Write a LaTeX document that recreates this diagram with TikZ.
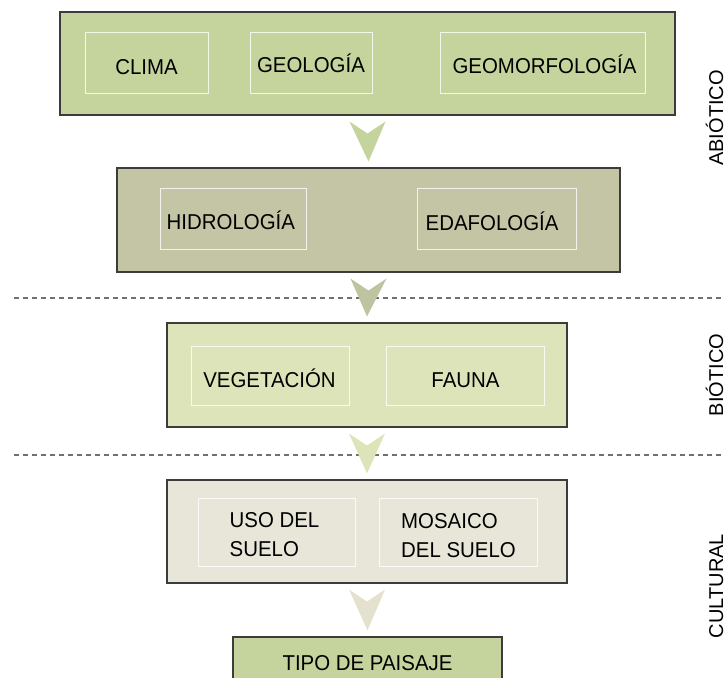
\documentclass[tikz,border=0pt]{standalone}
\usepackage{fontspec}
\setmainfont{Liberation Sans}
\newfontfamily\boxfont[FakeStretch=0.95]{Liberation Sans}
\usetikzlibrary{calc}
\definecolor{cA}{HTML}{C5D39C}
\definecolor{cB}{HTML}{C3C5A5}
\definecolor{cBa}{HTML}{BEC3A0}
\definecolor{cC}{HTML}{DDE4B9}
\definecolor{cD}{HTML}{E8E6D8}
\definecolor{cDa}{HTML}{E4E2CF}
\definecolor{frame}{HTML}{3C3C3C}
\definecolor{sep}{HTML}{707070}
\tikzset{
  outerbox/.style={draw=frame, line width=1.1pt, inner sep=0pt},
  innerbox/.style={draw=white, draw opacity=0.8, line width=1pt, inner sep=0pt, minimum height=60pt},
  lbl/.style={font=\boxfont\fontsize{21.5}{26}\selectfont, inner sep=0pt, text=black, anchor=base},
  lblw/.style={lbl, anchor=base west},
  side/.style={font=\fontsize{20}{24}\selectfont, inner sep=0pt, rotate=90, anchor=base},
  sepline/.style={draw=sep, line width=1.1pt, dash pattern=on 5pt off 4pt},
}
\newcommand{\chev}[3]{% from node, to node, color
  \fill[#3] ($(#1.south)+(-18pt,-6pt)$) -- ($(#1.south)+(0pt,-18pt)$) -- ($(#1.south)+(18pt,-6pt)$)
     -- ($(#2.north)+(0pt,6pt)$) -- cycle;}
\begin{document}
\begin{tikzpicture}[x=1pt,y=-1pt]
\useasboundingbox (0,0) rectangle (727,677);
\clip (0,0) rectangle (727,677);

% separators
\coordinate (s1a) at (14,298); \coordinate (s1b) at (722,298);
\coordinate (s2a) at (14,455); \coordinate (s2b) at (722,455);
\draw[sepline] (s1a) -- (s1b);
\draw[sepline] (s2a) -- (s2b);

% box 1
\node[outerbox, fill=cA, minimum width=615pt, minimum height=103pt] (b1) at (367.5,63.5) {};
\node[innerbox, minimum width=123pt] (clima) at (146.5,63) {};
\node[innerbox, minimum width=122pt] (geol) at (311,63) {};
\node[innerbox, minimum width=205pt] (geom) at (542.5,63) {};
\node[lbl] (tclima) at (146.5,74.5) {CLIMA};
\node[lbl] (tgeol) at (311,72.5) {GEOLOGÍA};
\node[lbl] (tgeom) at (544.5,74) {GEOMORFOLOGÍA};

% box 2
\node[outerbox, fill=cB, minimum width=503pt, minimum height=104pt] (b2) at (368.5,220) {};
\node[innerbox, minimum width=146pt, minimum height=61pt] (hidro) at (233,218.5) {};
\node[innerbox, minimum width=159pt, minimum height=61pt] (edaf) at (496.5,218.5) {};
\node[lblw] (thidro) at (166.5,229.5) {HIDROLOGÍA};
\node[lblw] (tedaf) at (425.5,230.5) {EDAFOLOGÍA};

% box 3
\node[outerbox, fill=cC, minimum width=400pt, minimum height=104pt] (b3) at (367,375) {};
\node[innerbox, minimum width=158pt, minimum height=59pt] (veg) at (270,375.5) {};
\node[innerbox, minimum width=158pt, minimum height=59pt] (fauna) at (465,375.5) {};
\node[lbl] (tveg) at (269.5,387) {VEGETACIÓN};
\node[lbl] (tfauna) at (465.5,387) {FAUNA};

% box 4
\node[outerbox, fill=cD, minimum width=400pt, minimum height=103pt] (b4) at (367,531.5) {};
\node[innerbox, minimum width=157pt, minimum height=68pt] (uso) at (276.5,532) {};
\node[innerbox, minimum width=158pt, minimum height=68pt] (mos) at (458,532) {};
\node[lblw] (tuso1) at (229.5,527) {USO DEL};
\node[lblw] (tuso2) at (229.5,556) {SUELO};
\node[lblw] (tmos1) at (401,528.5) {MOSAICO};
\node[lblw] (tmos2) at (401,557.5) {DEL SUELO};

% box 5
\node[outerbox, fill=cA, minimum width=269pt, minimum height=60pt] (b5) at (367.5,667) {};
\node[lbl] (tb5) at (367.5,670) {TIPO DE PAISAJE};

% chevrons
\chev{b1}{b2}{cA}
\chev{b2}{b3}{cBa}
\chev{b3}{b4}{cC}
\chev{b4}{b5}{cDa}

% side labels
\node[side] (abio) at (723,118) {ABIÓTICO};
\node[side] (bio) at (723,375) {BIÓTICO};
\node[side] (cult) at (723,586) {CULTURAL};
\end{tikzpicture}
\end{document}
